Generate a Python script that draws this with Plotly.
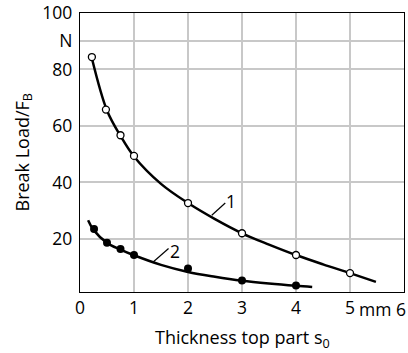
import plotly.graph_objects as go

# Measured points
s1_x = [0.22, 0.48, 0.75, 1.0, 2.0, 3.0, 4.0, 5.0]
s1_y = [84.4, 65.8, 56.7, 49.4, 32.7, 22.0, 14.3, 7.9]
s2_x = [0.26, 0.5, 0.75, 1.0, 2.0, 3.0, 4.0]
s2_y = [23.5, 18.6, 16.4, 14.3, 9.5, 5.3, 3.5]

# Fitted curves as drawn in the picture
c1_x = [0.22, 0.5, 0.75, 1.0, 1.5, 2.0, 2.5, 3.0, 3.5, 4.0, 4.5, 5.0, 5.48]
c1_y = [84.0, 65.5, 56.5, 49.2, 39.5, 32.7, 27.0, 22.0, 18.0, 14.3, 11.0, 7.9, 4.8]
c2_x = [0.15, 0.25, 0.5, 0.75, 1.0, 1.5, 2.0, 2.5, 3.0, 3.5, 4.0, 4.3]
c2_y = [26.6, 23.2, 18.6, 16.2, 14.2, 10.8, 8.3, 6.6, 5.2, 4.2, 3.4, 3.0]

x_ticks = [0, 1, 2, 3, 4, 5]
x_ticktext = ["0", "1", "2", "3", "4", "5"]
y_ticks = [20, 40, 60, 80, 90, 100]
y_ticktext = ["20", "40", "60", "80", "N", "100"]

FONT = "Open Sans"
FS = 17.5

fig = go.Figure()
fig.add_trace(go.Scatter(x=c1_x, y=c1_y, mode="lines", line=dict(color="black", width=2.5, shape="spline"),
                         showlegend=False, hoverinfo="skip"))
fig.add_trace(go.Scatter(x=c2_x, y=c2_y, mode="lines", line=dict(color="black", width=2.5, shape="spline"),
                         showlegend=False, hoverinfo="skip"))
fig.add_trace(go.Scatter(x=s1_x, y=s1_y, mode="markers",
                         marker=dict(symbol="circle", size=7, color="white", line=dict(color="black", width=1.3)),
                         showlegend=False))
fig.add_trace(go.Scatter(x=s2_x, y=s2_y, mode="markers",
                         marker=dict(symbol="circle", size=8, color="black", line=dict(color="black", width=0)),
                         showlegend=False))

# leader lines for curve labels
fig.add_trace(go.Scatter(x=[2.44, 2.69], y=[28.4, 32.7], mode="lines", line=dict(color="black", width=1.2),
                         showlegend=False, hoverinfo="skip"))
fig.add_trace(go.Scatter(x=[1.36, 1.64], y=[11.9, 16.6], mode="lines", line=dict(color="black", width=1.2),
                         showlegend=False, hoverinfo="skip"))

fig.add_annotation(x=2.79, y=33.5, text="1", showarrow=False, xanchor="center", yanchor="middle",
                   font=dict(family=FONT, size=FS, color="black"))
fig.add_annotation(x=1.76, y=15.6, text="2", showarrow=False, xanchor="center", yanchor="middle",
                   font=dict(family=FONT, size=FS, color="black"))
fig.add_annotation(x=5.47, y=0, yref="paper", yshift=-17, text="mm", showarrow=False,
                   xanchor="center", yanchor="middle", font=dict(family=FONT, size=FS, color="black"))
fig.add_annotation(x=6, y=0, yref="paper", yshift=-17, xshift=4, text="6", showarrow=False,
                   xanchor="right", yanchor="middle", font=dict(family=FONT, size=FS, color="black"))
# axis titles
fig.add_annotation(x=0.5, xref="paper", y=0, yref="paper", yshift=-46, text="Thickness top part s<sub>0</sub>",
                   showarrow=False, xanchor="center", yanchor="middle", font=dict(family=FONT, size=18, color="black"))
fig.add_annotation(x=0, xref="paper", xshift=-57, y=0.5, yref="paper", text="Break Load/F<sub>B</sub>",
                   textangle=-90, showarrow=False, xanchor="center", yanchor="middle",
                   font=dict(family=FONT, size=18, color="black"))

fig.update_layout(
    width=408, height=353,
    margin=dict(l=80, r=4, t=13, b=61),
    paper_bgcolor="white", plot_bgcolor="white",
    font=dict(family=FONT, size=FS, color="black"),
    xaxis=dict(range=[0, 6], tickvals=x_ticks, ticktext=x_ticktext, showgrid=True, automargin=False,
               gridcolor="#c8c8c8", gridwidth=1.5, showline=True, linecolor="black", linewidth=1.3,
               mirror=True, ticks="", zeroline=False, ticklabeloverflow="allow"),
    yaxis=dict(range=[1.2, 100], tickvals=y_ticks, ticktext=y_ticktext, showgrid=True, automargin=False,
               gridcolor="#c8c8c8", gridwidth=1.5, showline=True, linecolor="black", linewidth=1.3,
               mirror=True, ticks="", zeroline=False, ticklabeloverflow="allow", ticklabelstandoff=3),
)

# remove the browser's default 8px body margin so the figure fills the window
fig.write_html("out.html", config={"displayModeBar": False},
               post_script="document.body.style.margin='0';")
